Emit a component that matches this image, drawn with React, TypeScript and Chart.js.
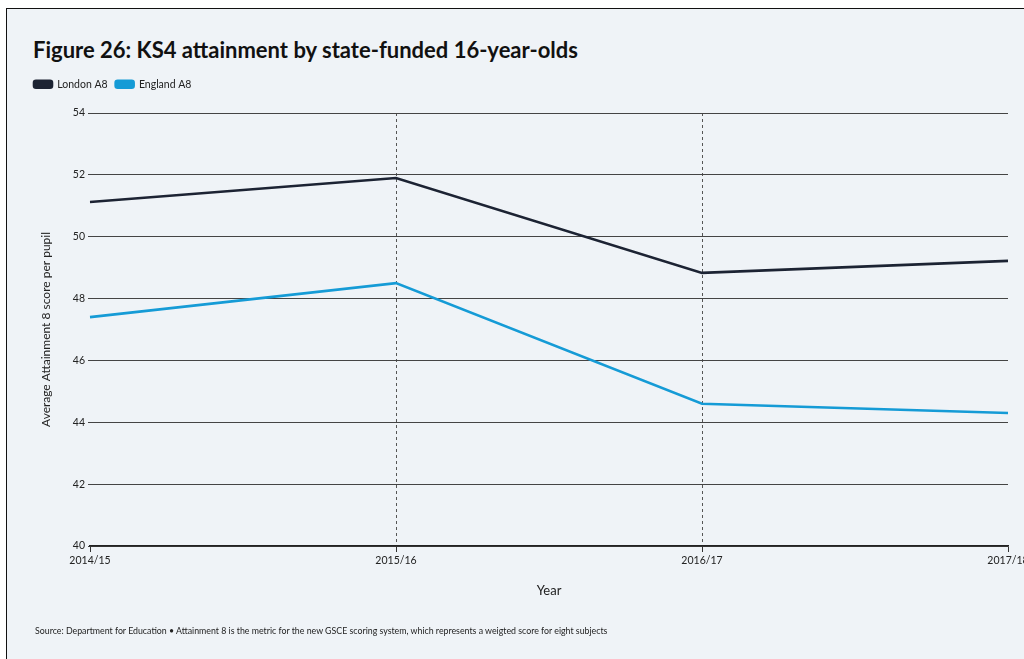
import React, { useEffect, useRef } from "react";
import { Chart, registerables } from "chart.js";

Chart.register(...registerables);

const years = ["2014/15", "2015/16", "2016/17", "2017/18"];
const londonA8 = [51.12, 51.9, 48.83, 49.22];
const englandA8 = [47.4, 48.5, 44.6, 44.3];
const yTicks = [40, 42, 44, 46, 48, 50, 52, 54];

const FONT = "Lato, 'Open Sans', sans-serif";
const BG = "#eff3f7";

export default function App() {
  const ref = useRef<HTMLCanvasElement | null>(null);

  useEffect(() => {
    if (!ref.current) return;
    const legendGap = {
      id: "legendGap",
      beforeInit(chart: any) {
        const lg = chart.legend;
        if (!lg) return;
        const orig = lg.fit;
        lg.fit = function () {
          orig.bind(lg)();
          this.height += 13.5;
        };
      },
    };
    const chart = new Chart(ref.current, {
      type: "line",
      data: {
        labels: years,
        datasets: [
          {
            label: "London A8",
            data: londonA8,
            borderColor: "#1c2333",
            backgroundColor: "#1c2333",
            borderWidth: 2.6,
            pointRadius: 0,
            tension: 0,
          },
          {
            label: "England A8",
            data: englandA8,
            borderColor: "#159bd6",
            backgroundColor: "#159bd6",
            borderWidth: 2.6,
            pointRadius: 0,
            tension: 0,
          },
        ],
      },
      options: {
        animation: false,
        responsive: false,
        layout: { padding: { top: 71, left: 26, right: 16, bottom: 56 } },
        plugins: {
          title: { display: false },
          tooltip: { enabled: false },
          legend: {
            display: true,
            position: "top",
            align: "start",
            labels: {
              boxWidth: 18,
              boxHeight: 7,
              useBorderRadius: true,
              borderRadius: 2,
              padding: 8,
              color: "#222",
              font: { family: FONT, size: 10.5 },
            },
          },
        },
        scales: {
          x: {
            type: "category",
            offset: false,
            afterFit(scale: any) {
              scale.height = 57;
              scale.paddingLeft = 0;
              scale.paddingRight = 0;
            },
            border: { display: true, color: "#222", width: 1.5, dash: [3, 3] },
            grid: {
              display: true,
              drawOnChartArea: true,
              color: (ctx: any) =>
                ctx.index === 0 || ctx.index === years.length - 1 ? "rgba(0,0,0,0)" : "#555",
              lineWidth: 1,
              tickLength: 6,
              tickColor: "#333",
              tickBorderDash: [],
            } as any,
            ticks: {
              color: "#222",
              padding: 2,
              maxRotation: 0,
              autoSkip: false,
              font: { family: FONT, size: 10.5 },
            },
            title: {
              display: true,
              text: "Year",
              color: "#222",
              font: { family: FONT, size: 13 },
              padding: { top: 4, bottom: 4 },
            },
          },
          y: {
            min: 40,
            max: 54,
            afterFit(scale: any) {
              scale.width = 64;
              scale.paddingTop = 0;
              scale.paddingBottom = 0;
            },
            afterBuildTicks(scale: any) {
              scale.ticks = yTicks.map((v) => ({ value: v }));
            },
            border: { display: false },
            grid: {
              color: "#444",
              lineWidth: 1,
              tickLength: 2,
              drawTicks: true,
            },
            ticks: {
              color: "#222",
              padding: 3,
              font: { family: FONT, size: 10.5 },
            },
            title: {
              display: true,
              text: "Average Attainment 8 score per pupil",
              color: "#222",
              font: { family: FONT, size: 12 },
              padding: { top: 13, bottom: 0 },
            },
          },
        },
      },
      plugins: [legendGap],
    } as any);
    return () => chart.destroy();
  }, []);

  return (
    <div>
      <div
        style={{
          position: "fixed",
          left: 6,
          top: 8,
          width: 1100,
          height: 700,
          borderLeft: "1px solid #111",
          borderTop: "1px solid #111",
          background: BG,
        }}
      />
      <div
        style={{
          position: "fixed",
          left: 33,
          top: 37,
          fontFamily: FONT,
          fontWeight: 700,
          fontSize: 22,
          color: "#111",
          whiteSpace: "nowrap",
          lineHeight: 1.2,
        }}
      >
        Figure 26: KS4 attainment by state-funded 16-year-olds
      </div>
      <canvas
        ref={ref}
        width={1024}
        height={659}
        style={{ position: "fixed", left: 0, top: 0, width: 1024, height: 659 }}
      />
      <div
        style={{
          position: "fixed",
          left: 35,
          top: 625,
          fontFamily: FONT,
          fontSize: 8.8,
          color: "#222",
          whiteSpace: "nowrap",
          lineHeight: "12px",
        }}
      >
        Source: Department for Education • Attainment 8 is the metric for the new GSCE scoring system, which represents a weigted score for eight subjects
      </div>
    </div>
  );
}
